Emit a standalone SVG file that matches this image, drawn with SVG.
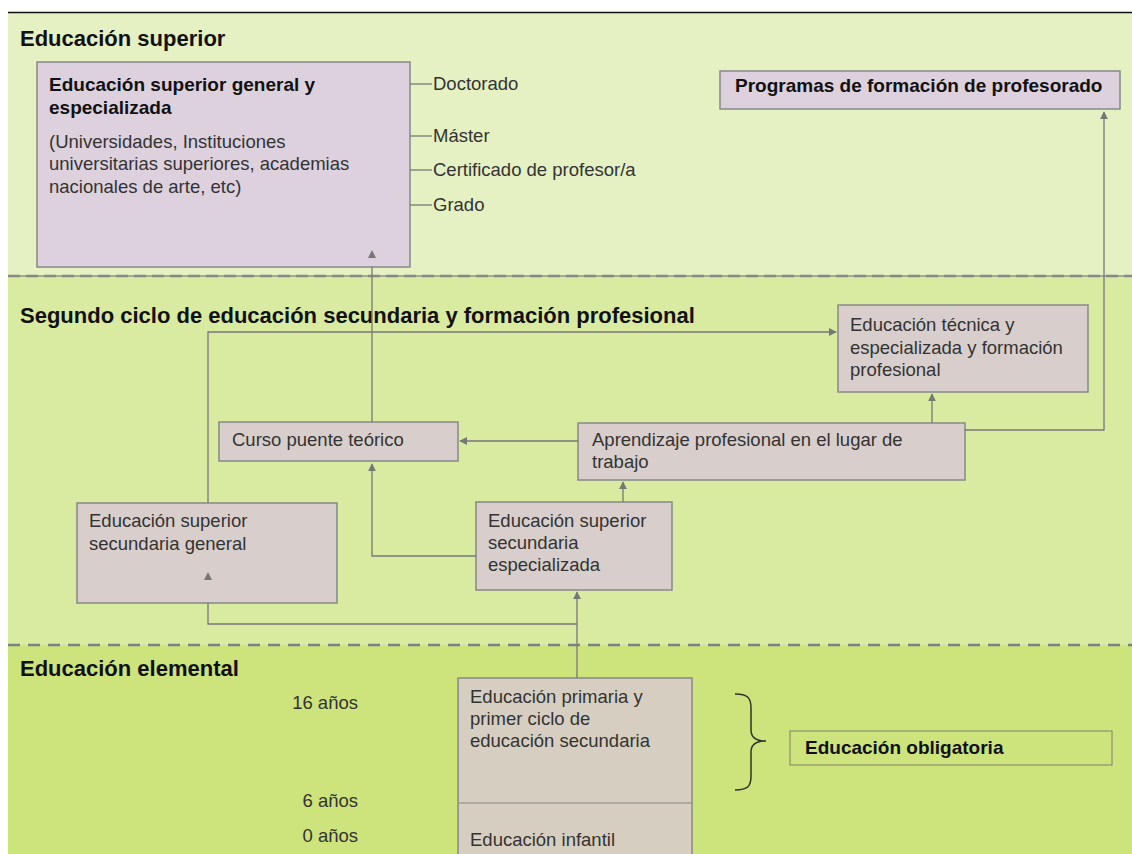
<svg xmlns="http://www.w3.org/2000/svg" width="1132" height="854" viewBox="0 0 1132 854">
<style>
.t{font-family:"Liberation Sans",Arial,sans-serif;font-size:18.5px;fill:#333}
.b{font-family:"Liberation Sans",Arial,sans-serif;font-size:19px;font-weight:bold;fill:#111}
.h{font-family:"Liberation Sans",Arial,sans-serif;font-size:22px;font-weight:bold;fill:#111}
.bx{stroke:#888;stroke-width:1.5}
.lav{fill:#ddd1dd}
.mau{fill:#d8cfcc}
.tan{fill:#d6cfc1}
.c{fill:none;stroke:#777;stroke-width:1.3}
.ah{fill:#777}
</style>
<defs>
<marker id="ar" viewBox="0 0 10 10" refX="9" refY="5" markerWidth="8" markerHeight="8" markerUnits="userSpaceOnUse" orient="auto">
<path d="M0,0 L10,5 L0,10 z" fill="#777"/>
</marker>
</defs>
<rect x="0" y="0" width="1132" height="854" fill="#ffffff"/>
<rect x="8" y="13" width="1124" height="263" fill="#e5f0c3"/>
<rect x="8" y="276" width="1124" height="369" fill="#d9eba0"/>
<rect x="8" y="645" width="1124" height="209" fill="#cde47d"/>
<line x1="8" y1="12.5" x2="1132" y2="12.5" stroke="#111" stroke-width="1.5"/>
<line x1="8" y1="276" x2="1132" y2="276" stroke="#666" stroke-width="1"/>
<line x1="8" y1="276" x2="1132" y2="276" stroke="#888" stroke-width="2.5" stroke-dasharray="12 6"/>
<line x1="8" y1="645" x2="1132" y2="645" stroke="#7b8088" stroke-width="2.5" stroke-dasharray="12 8"/>

<text class="h" x="20" y="46">Educación superior</text>
<text class="h" x="20" y="323">Segundo ciclo de educación secundaria y formación profesional</text>
<text class="h" x="20" y="676">Educación elemental</text>

<g id="n-superior">
<rect class="bx lav" x="37" y="62" width="373" height="205"/>
<text class="b" x="49" y="91">Educación superior general y</text>
<text class="b" x="49" y="114">especializada</text>
<text class="t" x="49" y="148">(Universidades, Instituciones</text>
<text class="t" x="49" y="170">universitarias superiores, academias</text>
<text class="t" x="49" y="193">nacionales de arte, etc)</text>
</g>
<g id="n-grados">
<text class="t" x="433" y="90">Doctorado</text>
<text class="t" x="433" y="142">Máster</text>
<text class="t" x="433" y="176">Certificado de profesor/a</text>
<text class="t" x="433" y="211">Grado</text>
</g>
<g id="n-programas">
<rect class="bx lav" x="720" y="71" width="400" height="38"/>
<text class="b" x="735" y="92">Programas de formación de profesorado</text>
</g>
<g id="n-tecnica">
<rect class="bx mau" x="838" y="305" width="250" height="87"/>
<text class="t" x="850" y="331">Educación técnica y</text>
<text class="t" x="850" y="354">especializada y formación</text>
<text class="t" x="850" y="376">profesional</text>
</g>
<g id="n-curso">
<rect class="bx mau" x="219" y="422" width="239" height="39"/>
<text class="t" x="232" y="446">Curso puente teórico</text>
</g>
<g id="n-aprendizaje">
<rect class="bx mau" x="578" y="423" width="387" height="57"/>
<text class="t" x="592" y="446">Aprendizaje profesional en el lugar de</text>
<text class="t" x="592" y="468">trabajo</text>
</g>
<g id="n-general">
<rect class="bx mau" x="77" y="503" width="260" height="100"/>
<text class="t" x="89" y="527">Educación superior</text>
<text class="t" x="89" y="550">secundaria general</text>
</g>
<g id="n-especializada">
<rect class="bx mau" x="476" y="502" width="196" height="88"/>
<text class="t" x="488" y="527">Educación superior</text>
<text class="t" x="488" y="549">secundaria</text>
<text class="t" x="488" y="571">especializada</text>
</g>
<g id="n-edades">
<text class="t" x="358" y="709" text-anchor="end">16 años</text>
<text class="t" x="358" y="807" text-anchor="end">6 años</text>
<text class="t" x="358" y="842" text-anchor="end">0 años</text>
</g>
<g id="n-elemental">
<rect class="bx tan" x="458" y="678" width="234" height="180"/>
<line x1="458" y1="803" x2="692" y2="803" stroke="#888" stroke-width="1.2"/>
<text class="t" x="470" y="703">Educación primaria y</text>
<text class="t" x="470" y="725">primer ciclo de</text>
<text class="t" x="470" y="747">educación secundaria</text>
<text class="t" x="470" y="846">Educación infantil</text>
</g>
<g id="n-llave">
<path d="M735,694 C748,694 751,698 751,708 L751,730 C751,738 756,741 766,741 C756,741 751,744 751,752 L751,776 C751,786 748,790 735,790" fill="none" stroke="#333" stroke-width="1.5"/>
</g>
<g id="n-obligatoria">
<rect x="790" y="731" width="322" height="34" fill="none" stroke="#8a9070" stroke-width="1.2"/>
<text class="b" x="805" y="754">Educación obligatoria</text>
</g>

<g id="connectors">
<line class="c" x1="410" y1="84" x2="432" y2="84"/>
<line class="c" x1="410" y1="136" x2="432" y2="136"/>
<line class="c" x1="410" y1="170" x2="432" y2="170"/>
<line class="c" x1="410" y1="205" x2="432" y2="205"/>
<polyline class="c" points="965,430 1104,430 1104,112" marker-end="url(#ar)"/>
<polyline class="c" points="208,503 208,332 836,332" marker-end="url(#ar)"/>
<polyline class="c" points="372,422 372,267"/>
<path class="ah" d="M372,250 L376,258 L368,258 z"/>
<polyline class="c" points="578,441 460,441" marker-end="url(#ar)"/>
<polyline class="c" points="932,423 932,394" marker-end="url(#ar)"/>
<polyline class="c" points="623,502 623,482" marker-end="url(#ar)"/>
<polyline class="c" points="476,556 372,556 372,464" marker-end="url(#ar)"/>
<polyline class="c" points="577,678 577,592" marker-end="url(#ar)"/>
<polyline class="c" points="577,624 208,624 208,603"/>
<path class="ah" d="M208,572 L212,580 L204,580 z"/>
</g>
</svg>
